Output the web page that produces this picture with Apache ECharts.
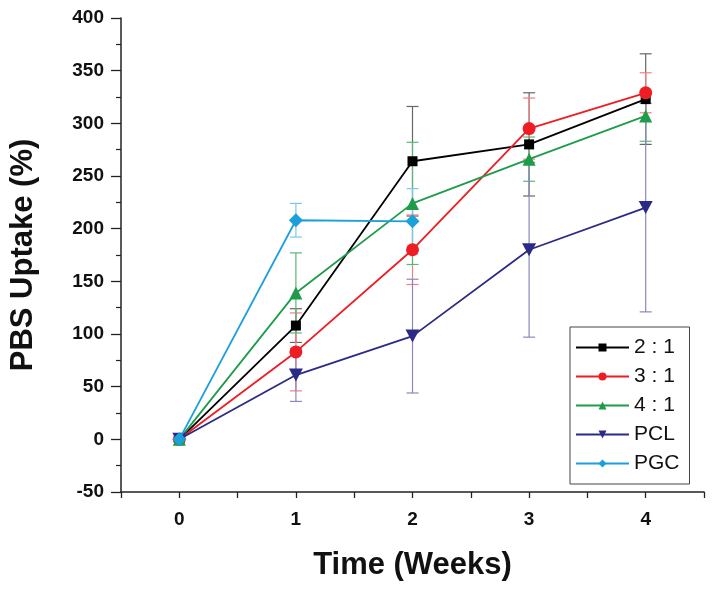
<!DOCTYPE html>
<html>
<head>
<meta charset="utf-8">
<script src="https://cdn.jsdelivr.net/npm/echarts@6/dist/echarts.min.js"></script>
<style>
html,body{margin:0;padding:0;background:#fff;}
#chart{width:714px;height:592px;}
</style>
</head>
<body>
<div id="chart"></div>
<script>
// ---- data ----
const weeks = [0, 1, 2, 3, 4];
const seriesNames = ['2 : 1', '3 : 1', '4 : 1', 'PCL', 'PGC'];
const v21  = [0, 108, 264, 280, 323];
const v31  = [0, 83, 180, 295, 329];
const v41  = [0, 139, 224, 266, 307];
const vPCL = [0, 61, 98, 180, 220];
const vPGC = [0, 208, 207];
const e21  = [0, 16, 52, 49, 43];
const e31  = [0, 37, 33, 29, 19];
const e41  = [0, 38, 58, 21, 24];
const ePCL = [0, 25, 54, 83, 99];
const ePGC = [0, 16, 31];
const xTicks = [0, 1, 2, 3, 4];
const yTicks = [-50, 0, 50, 100, 150, 200, 250, 300, 350, 400];

const colors = ['#000000', '#ee1d24', '#1e9c4a', '#2b2a86', '#1ba0dc'];
const errColors = ['#666666', '#f08080', '#5cb878', '#8a88bd', '#7cc8ec'];
const symbols = ['rect', 'circle', 'triangle', 'path://M0,0 L10,0 L5,9 Z', 'diamond'];
const symSizes = [10, 13, 13, [14, 13], 14];
const values = [v21, v31, v41, vPCL, vPGC];
const errs = [e21, e31, e41, ePCL, ePGC];

const series = [];
values.forEach((vals, i) => {
  series.push({
    type: 'custom',
    name: seriesNames[i] + '_err',
    z: 1,
    silent: true,
    data: vals.map((v, k) => [weeks[k], v - errs[i][k], v + errs[i][k]]),
    renderItem: function (params, api) {
      const x = api.value(0);
      const lo = api.coord([x, api.value(1)]);
      const hi = api.coord([x, api.value(2)]);
      const hw = 6;
      const st = { stroke: errColors[i], lineWidth: 1.2 };
      return {
        type: 'group',
        children: [
          { type: 'line', shape: { x1: lo[0], y1: lo[1], x2: hi[0], y2: hi[1] }, style: st },
          { type: 'line', shape: { x1: lo[0] - hw, y1: lo[1], x2: lo[0] + hw, y2: lo[1] }, style: st },
          { type: 'line', shape: { x1: hi[0] - hw, y1: hi[1], x2: hi[0] + hw, y2: hi[1] }, style: st }
        ]
      };
    }
  });
});
values.forEach((vals, i) => {
  series.push({
    type: 'line',
    name: seriesNames[i],
    z: 3 + i,
    data: vals.map((v, k) => [weeks[k], v]),
    symbol: symbols[i],
    symbolSize: symSizes[i],
    showAllSymbol: true,
    lineStyle: { color: colors[i], width: 1.8 },
    itemStyle: { color: colors[i] },
    emphasis: { disabled: true }
  });
});

const chart = echarts.init(document.getElementById('chart'));
chart.setOption({
  animation: false,
  backgroundColor: '#ffffff',
  grid: { left: 121, right: 10, top: 18, bottom: 100 },
  legend: {
    data: seriesNames,
    orient: 'vertical',
    left: 570,
    top: 327,
    width: 118,
    padding: [10, 10, 10, 5],
    itemGap: 8,
    itemWidth: 53,
    itemHeight: 10,
    borderColor: '#444444',
    borderWidth: 1,
    textStyle: { fontFamily: 'Liberation Sans, Arial, sans-serif', fontSize: 21, color: '#111' }
  },
  xAxis: {
    type: 'value',
    min: -0.5,
    max: 4.5,
    interval: 0.5,
    name: 'Time (Weeks)',
    nameLocation: 'middle',
    nameGap: 58,
    nameTextStyle: { fontFamily: 'Liberation Sans, Arial, sans-serif', fontSize: 31, fontWeight: 'bold', color: '#111' },
    axisLine: { onZero: false, lineStyle: { color: '#222', width: 1.5 } },
    axisTick: { inside: false, length: 6, lineStyle: { color: '#222', width: 1.3 } },
    axisLabel: {
      fontFamily: 'Liberation Sans, Arial, sans-serif', fontSize: 19, fontWeight: 'bold', color: '#111', margin: 18,
      formatter: function (v) { return xTicks.indexOf(v) >= 0 ? String(v) : ''; }
    },
    splitLine: { show: false }
  },
  yAxis: {
    type: 'value',
    min: -50,
    max: 400,
    interval: 50,
    name: 'PBS Uptake (%)',
    nameLocation: 'middle',
    nameGap: 82,
    nameTextStyle: { fontFamily: 'Liberation Sans, Arial, sans-serif', fontSize: 31, fontWeight: 'bold', color: '#111' },
    axisLine: { show: true, onZero: false, lineStyle: { color: '#222', width: 1.5 } },
    axisTick: { inside: false, length: 10, lineStyle: { color: '#222', width: 1.3 } },
    minorTick: { show: true, splitNumber: 2, length: 5, lineStyle: { color: '#222', width: 1.2 } },
    axisLabel: {
      fontFamily: 'Liberation Sans, Arial, sans-serif', fontSize: 19, fontWeight: 'bold', color: '#111', margin: 17,
      formatter: function (v) { return yTicks.indexOf(v) >= 0 ? String(v) : ''; }
    },
    splitLine: { show: false }
  },
  series: series
});
</script>
</body>
</html>
